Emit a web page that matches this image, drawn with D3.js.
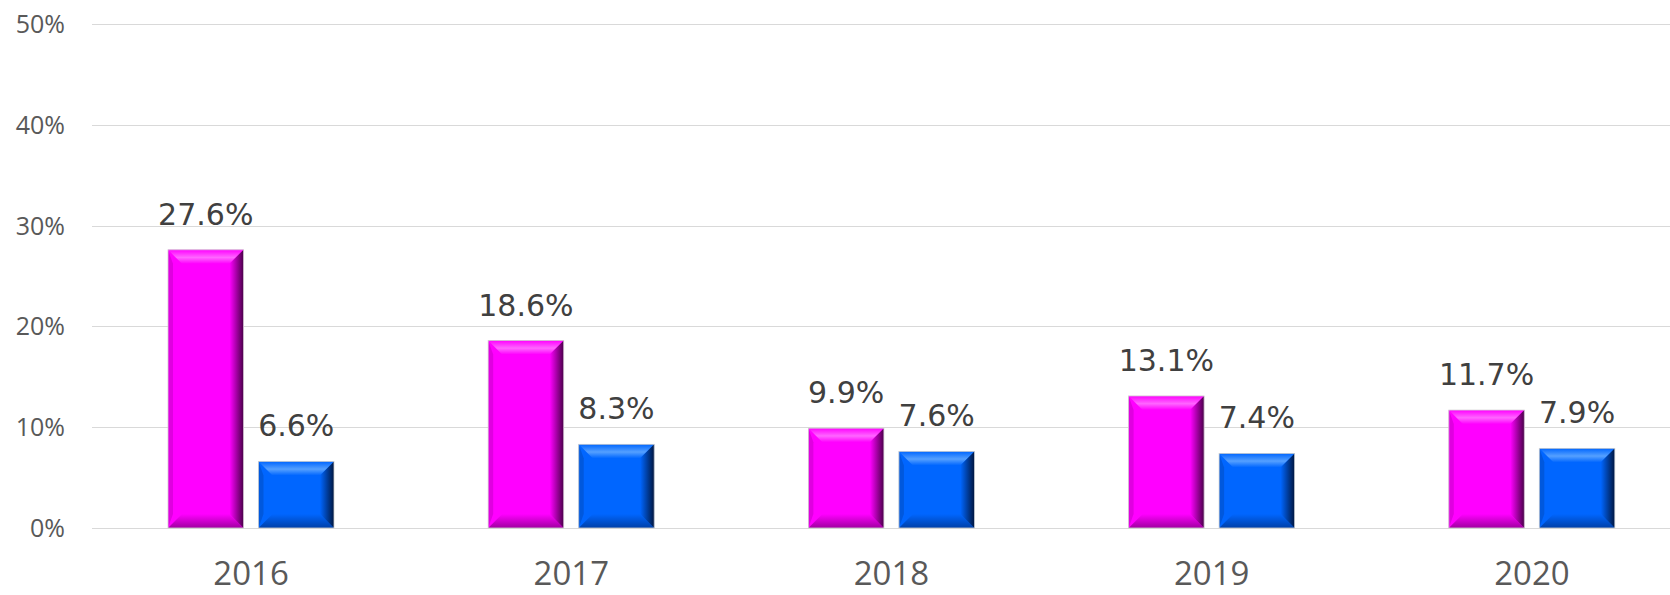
<!DOCTYPE html>
<html lang="en">

<head>
    <meta charset="UTF-8">
    <title>Bar chart 2016-2020</title>
    <script src="https://cdn.jsdelivr.net/npm/d3@7"></script>

    <style>

        body {
            margin: 0;
            background: #fff;
        }

        .grid line {
            stroke: #d9d9d9;
            stroke-width: 1px;
        }

        .axis-label {
            font-family: "Open Sans", sans-serif;
            font-size: 25px;
            fill: #595959;
        }

        .cat-label {
            font-family: "Open Sans", sans-serif;
            font-size: 33px;
            fill: #595959;
        }

        .value-label {
            font-family: "DejaVu Sans", sans-serif;
            font-size: 30px;
            fill: #404040;
        }

    </style>

</head>

<body>

    <svg width="1670" height="595"></svg>

    <script>

        // data
        var years = ["2016", "2017", "2018", "2019", "2020"];
        var seriesNames = ["first", "second"];
        var firstValues = [27.6, 18.6, 9.9, 13.1, 11.7];
        var secondValues = [6.6, 8.3, 7.6, 7.4, 7.9];
        var yTicks = [0, 10, 20, 30, 40, 50];

        var colors = {
            first: { main: "#ff00ff", top: "#ff66ff", left: "#e000e0", right: "#4a004a", bottom: "#a000a0" },
            second: { main: "#0066ff", top: "#55a0ff", left: "#0058dd", right: "#001640", bottom: "#0040a8" }
        };

        var rows = years.map(function(y, i) {
            return { year: y, first: firstValues[i], second: secondValues[i] };
        });

        var svg = d3.select("svg"),
            width = +svg.attr("width"),
            height = +svg.attr("height");

        var y = d3.scaleLinear()
            .domain([0, 50])
            .range([528, 24]);

        var x = d3.scaleBand()
            .domain(years)
            .range([91, 1692]);

        var xSub = d3.scaleBand()
            .domain(seriesNames)
            .range([77, 243])
            .paddingInner(0.166);

        var defs = svg.append("defs");

        seriesNames.forEach(function(s) {
            var gr = defs.append("linearGradient")
                .attr("id", "right-" + s)
                .attr("x1", 0).attr("x2", 1).attr("y1", 0).attr("y2", 0);
            gr.append("stop").attr("offset", "0%").attr("stop-color", colors[s].main);
            gr.append("stop").attr("offset", "100%").attr("stop-color", colors[s].right);

            var gt = defs.append("linearGradient")
                .attr("id", "top-" + s)
                .attr("x1", 0).attr("x2", 0).attr("y1", 0).attr("y2", 1);
            gt.append("stop").attr("offset", "0%").attr("stop-color", colors[s].main);
            gt.append("stop").attr("offset", "55%").attr("stop-color", colors[s].top);
            gt.append("stop").attr("offset", "100%").attr("stop-color", colors[s].main);

            var gb = defs.append("linearGradient")
                .attr("id", "bottom-" + s)
                .attr("x1", 0).attr("x2", 0).attr("y1", 0).attr("y2", 1);
            gb.append("stop").attr("offset", "0%").attr("stop-color", colors[s].main);
            gb.append("stop").attr("offset", "100%").attr("stop-color", colors[s].bottom);
        });

        // gridlines + y labels
        var grid = svg.append("g").attr("class", "grid");

        grid.selectAll("line")
            .data(yTicks)
            .enter().append("line")
            .attr("x1", 92)
            .attr("x2", width)
            .attr("y1", function(d) { return Math.round(y(d)) + 0.5; })
            .attr("y2", function(d) { return Math.round(y(d)) + 0.5; });

        svg.append("g")
            .selectAll("text")
            .data(yTicks)
            .enter().append("text")
            .attr("class", "axis-label")
            .attr("x", 65)
            .attr("y", function(d) { return y(d); })
            .attr("dy", "0.36em")
            .attr("text-anchor", "end")
            .text(function(d) { return d + "%"; });

        // bars
        var groups = svg.append("g")
            .selectAll("g")
            .data(rows)
            .enter().append("g")
            .attr("transform", function(d) { return "translate(" + x(d.year) + ",0)"; });

        var bars = groups.selectAll("g.bar")
            .data(function(d) {
                return seriesNames.map(function(s) { return { key: s, value: d[s] }; });
            })
            .enter().append("g")
            .attr("class", "bar");

        bars.each(function(d) {
            var g = d3.select(this);
            var x0 = xSub(d.key),
                x1 = x0 + xSub.bandwidth(),
                y0 = y(d.value),
                y1 = y(0),
                b = Math.min(14, (y1 - y0) / 2),
                c = colors[d.key];

            g.append("rect")
                .attr("x", x0)
                .attr("y", y0)
                .attr("width", x1 - x0)
                .attr("height", y1 - y0)
                .attr("fill", c.main);

            // bevel faces
            g.append("polygon")
                .attr("points", [[x0, y0], [x1, y0], [x1 - b, y0 + b], [x0 + b, y0 + b]].join(" "))
                .attr("fill", "url(#top-" + d.key + ")");

            g.append("polygon")
                .attr("points", [[x0, y0], [x0 + 5, y0 + b], [x0 + 5, y1 - b], [x0, y1]].join(" "))
                .attr("fill", c.left);

            g.append("polygon")
                .attr("points", [[x0, y1], [x0 + b, y1 - b], [x1 - b, y1 - b], [x1, y1]].join(" "))
                .attr("fill", "url(#bottom-" + d.key + ")");

            g.append("polygon")
                .attr("points", [[x1, y0], [x1, y1], [x1 - b, y1 - b], [x1 - b, y0 + b]].join(" "))
                .attr("fill", "url(#right-" + d.key + ")");

            g.append("rect")
                .attr("x", x0)
                .attr("y", y0)
                .attr("width", x1 - x0)
                .attr("height", y1 - y0)
                .attr("fill", "none")
                .attr("stroke", "#cfcfcf")
                .attr("stroke-width", 0.8);

            g.append("text")
                .attr("class", "value-label")
                .attr("x", (x0 + x1) / 2)
                .attr("y", y0 - 25)
                .attr("text-anchor", "middle")
                .text(d.value.toFixed(1) + "%");
        });

        // category labels
        svg.append("g")
            .selectAll("text")
            .data(years)
            .enter().append("text")
            .attr("class", "cat-label")
            .attr("x", function(d) { return x(d) + x.bandwidth() / 2; })
            .attr("y", 585)
            .attr("text-anchor", "middle")
            .text(function(d) { return d; });

    </script>

</body>

</html>
